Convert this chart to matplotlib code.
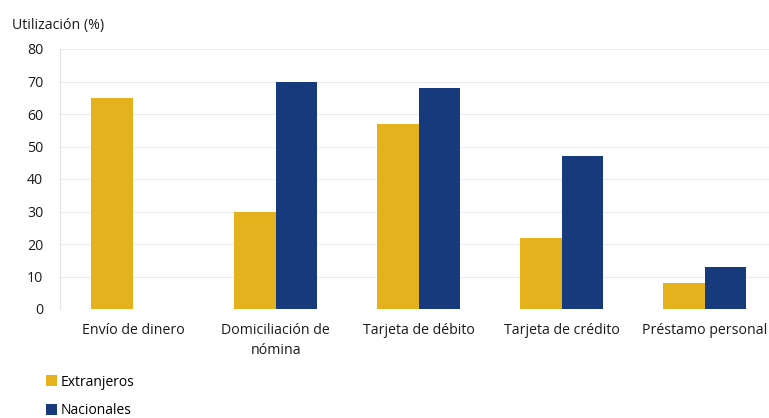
import numpy as np
import matplotlib.pyplot as plt

plt.rcParams['font.family'] = ['Open Sans', 'DejaVu Sans']

categorias = ['Envío de dinero', 'Domiciliación de\nnómina', 'Tarjeta de débito',
              'Tarjeta de crédito', 'Préstamo personal']
extranjeros = [65, 30, 57, 22, 8]
nacionales = [0, 70, 68, 47, 13]

color_ext = '#E3B21C'
color_nac = '#173A7C'

fig = plt.figure(figsize=(7.69, 4.18), dpi=100)
ax = fig.add_axes([60 / 769, 1 - 309 / 418, (769 - 60) / 769, 260 / 418])

x = np.arange(len(categorias))
ancho = 0.29
ax.bar(x - ancho / 2, extranjeros, ancho, color=color_ext, label='Extranjeros')
ax.bar(x + ancho / 2, nacionales, ancho, color=color_nac, label='Nacionales')

ax.set_ylim(0, 80)
ax.set_xlim(-0.51, 4.45)
ax.set_yticks(range(0, 81, 10))
ax.set_xticks(x)
ax.set_xticklabels(categorias, fontsize=10.2, color='#1a1a1a', linespacing=1.5)
ax.tick_params(axis='y', labelsize=10.2, colors='#1a1a1a', length=0, pad=12)
ax.tick_params(axis='x', length=0, pad=10)
ax.grid(axis='y', color='#ececec', linewidth=0.8)
ax.set_axisbelow(True)
for lado in ['top', 'right', 'bottom']:
    ax.spines[lado].set_visible(False)
ax.spines['left'].set_color('#e4e4e4')
ax.spines['left'].set_linewidth(0.8)

fig.text(12 / 769, 1 - 25 / 418, 'Utilización (%)', fontsize=10.2, va='center', color='#1a1a1a')

fig.legend(loc='upper left', bbox_to_anchor=(40 / 769, 1 - 369 / 418), frameon=False,
           fontsize=10, handlelength=0.85, handleheight=0.85, handletextpad=0.25,
           labelspacing=1.0, borderaxespad=0)

fig.savefig('out.png', dpi=100)
